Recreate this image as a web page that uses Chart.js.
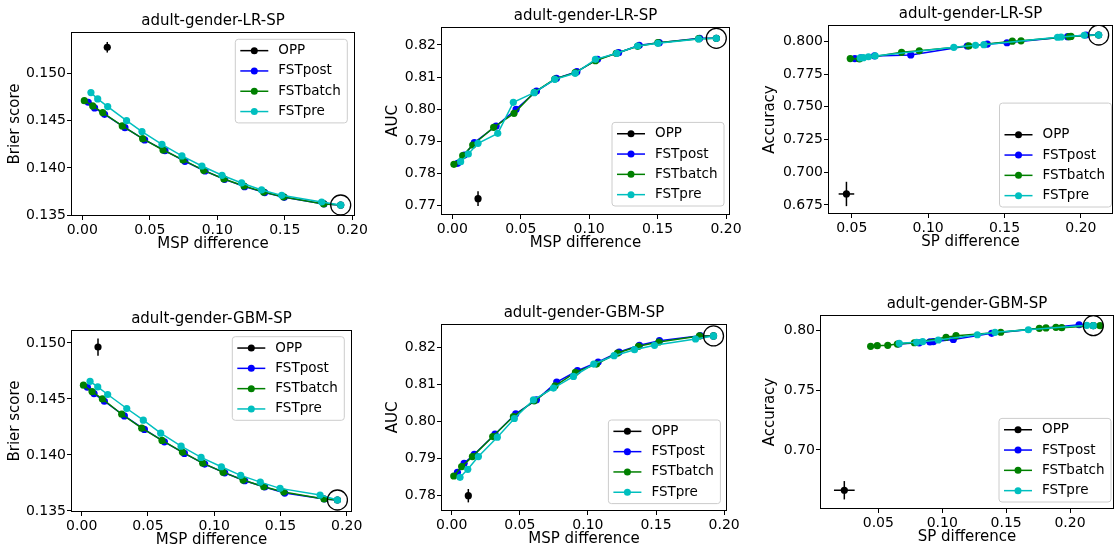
<!DOCTYPE html>
<html>
<head>
<meta charset="utf-8">
<title>adult-gender trade-off curves</title>
<script src="https://cdn.jsdelivr.net/npm/chart.js@4.4.0/dist/chart.umd.min.js"></script>
<style>
  html, body { margin: 0; padding: 0; background: #fff; }
  #fig { position: relative; width: 1115px; height: 552px; overflow: hidden; background: #fff; }
  #fig canvas { position: absolute; }
</style>
</head>
<body>
<div id="fig"></div>
<script>
// ---- data: [x, y] points ----

// adult-gender-LR-SP, Brier score vs MSP difference
const lrBrierPost = [[0.0044,0.14694],[0.0091,0.14634],[0.0165,0.14567],[0.0316,0.14426],[0.0462,0.14296],[0.0612,0.14183],[0.0760,0.14070],[0.0909,0.13968],[0.1054,0.13880],[0.1202,0.13803],[0.1351,0.13740],[0.1496,0.13690],[0.1790,0.13620],[0.1914,0.13609]];
const lrBrierBatch = [[0.0015,0.14711],[0.0077,0.14655],[0.0151,0.14585],[0.0296,0.14444],[0.0447,0.14310],[0.0598,0.14190],[0.0746,0.14085],[0.0899,0.13975],[0.1049,0.13884],[0.1198,0.13810],[0.1343,0.13746],[0.1491,0.13694],[0.1788,0.13620],[0.1914,0.13609]];
const lrBrierPre = [[0.0064,0.14796],[0.0114,0.14729],[0.0188,0.14648],[0.0328,0.14500],[0.0442,0.14384],[0.0590,0.14250],[0.0738,0.14127],[0.0886,0.14021],[0.1035,0.13923],[0.1180,0.13842],[0.1328,0.13768],[0.1477,0.13711],[0.1773,0.13641],[0.1914,0.13609]];
const lrBrierOpp = [0.0185, 0.15275];
const lrBrierOppErr = [0.0008, 0.00056];
const lrBrierBest = [0.1914, 0.13609];

// adult-gender-LR-SP, AUC vs MSP difference
const lrAucPost = [[0.0039,0.78317],[0.0088,0.78577],[0.0161,0.78961],[0.0320,0.79479],[0.0466,0.79998],[0.0615,0.80568],[0.0761,0.80963],[0.0910,0.81170],[0.1061,0.81554],[0.1215,0.81761],[0.1366,0.81990],[0.1512,0.82073],[0.1807,0.82207],[0.1929,0.82207]];
const lrAucBatch = [[0.0012,0.78286],[0.0076,0.78556],[0.0149,0.78888],[0.0302,0.79438],[0.0451,0.79873],[0.0600,0.80527],[0.0749,0.80942],[0.0898,0.81139],[0.1046,0.81512],[0.1198,0.81741],[0.1354,0.81960],[0.1502,0.82073],[0.1800,0.82197],[0.1929,0.82207]];
const lrAucPre = [[0.0061,0.78369],[0.0117,0.78608],[0.0188,0.78940],[0.0332,0.79251],[0.0446,0.80216],[0.0598,0.80517],[0.0749,0.80932],[0.0898,0.81118],[0.1046,0.81554],[0.1202,0.81741],[0.1354,0.81969],[0.1502,0.82052],[0.1800,0.82187],[0.1929,0.82207]];
const lrAucOpp = [0.0188, 0.77218];
const lrAucOppErr = [0.0008, 0.0023];
const lrAucBest = [0.1929, 0.82207];

// adult-gender-LR-SP, Accuracy vs SP difference
const lrAccPost = [[0.0520,0.7868],[0.0560,0.7874],[0.0649,0.7888],[0.0886,0.7896],[0.1256,0.7964],[0.1387,0.7979],[0.1516,0.7989],[0.1913,0.8035],[0.2033,0.8048],[0.2116,0.8048]];
const lrAccBatch = [[0.0490,0.7868],[0.0550,0.7865],[0.0826,0.7916],[0.0942,0.7928],[0.1266,0.7965],[0.1551,0.8001],[0.1608,0.8004],[0.1923,0.8035],[0.1935,0.8037],[0.2116,0.8048]];
const lrAccPre = [[0.0555,0.7873],[0.0576,0.7875],[0.0609,0.7882],[0.0653,0.7888],[0.1168,0.7954],[0.1310,0.7969],[0.1365,0.7974],[0.1847,0.8031],[0.1870,0.8033],[0.2022,0.8046],[0.2116,0.8048]];
const lrAccOpp = [0.0465, 0.6834];
const lrAccOppErr = [0.0051, 0.0093];
const lrAccBest = [0.2116, 0.8048];

// adult-gender-GBM-SP, Brier score vs MSP difference
const gbmBrierPost = [[0.0043,0.14605],[0.0093,0.14548],[0.0171,0.14480],[0.0322,0.14349],[0.0473,0.14228],[0.0624,0.14118],[0.0775,0.14014],[0.0928,0.13919],[0.1079,0.13841],[0.1230,0.13770],[0.1381,0.13714],[0.1532,0.13660],[0.1831,0.13607],[0.1930,0.13598]];
const gbmBrierBatch = [[0.0013,0.14623],[0.0078,0.14566],[0.0156,0.14501],[0.0302,0.14364],[0.0453,0.14239],[0.0606,0.14130],[0.0760,0.14026],[0.0913,0.13927],[0.1067,0.13847],[0.1218,0.13776],[0.1374,0.13717],[0.1525,0.13669],[0.1829,0.13607],[0.1930,0.13598]];
const gbmBrierPre = [[0.0063,0.14658],[0.0121,0.14608],[0.0196,0.14540],[0.0340,0.14415],[0.0465,0.14311],[0.0596,0.14195],[0.0750,0.14079],[0.0901,0.13978],[0.1054,0.13895],[0.1200,0.13818],[0.1348,0.13758],[0.1497,0.13702],[0.1799,0.13642],[0.1930,0.13598]];
const gbmBrierOpp = [0.0123, 0.14964];
const gbmBrierOppErr = [0.0006, 0.00077];
const gbmBrierBest = [0.1930, 0.13598];

// adult-gender-GBM-SP, AUC vs MSP difference
const gbmAucPost = [[0.0042,0.78629],[0.0091,0.78872],[0.0166,0.79115],[0.0318,0.79654],[0.0470,0.80202],[0.0622,0.80580],[0.0771,0.81056],[0.0923,0.81362],[0.1075,0.81596],[0.1229,0.81865],[0.1378,0.82045],[0.1525,0.82171],[0.1824,0.82306],[0.1922,0.82297]];
const gbmAucBatch = [[0.0015,0.78530],[0.0073,0.78782],[0.0152,0.79052],[0.0301,0.79590],[0.0453,0.80130],[0.0605,0.80553],[0.0759,0.80957],[0.0908,0.81317],[0.1063,0.81542],[0.1217,0.81838],[0.1371,0.82018],[0.1521,0.82135],[0.1819,0.82297],[0.1922,0.82297]];
const gbmAucPre = [[0.0061,0.78494],[0.0118,0.78710],[0.0196,0.79052],[0.0335,0.79573],[0.0460,0.80076],[0.0600,0.80580],[0.0747,0.80894],[0.0894,0.81209],[0.1043,0.81542],[0.1192,0.81766],[0.1342,0.81928],[0.1489,0.82045],[0.1790,0.82216],[0.1922,0.82297]];
const gbmAucOpp = [0.0122, 0.7800];
const gbmAucOppErr = [0.0006, 0.0018];
const gbmAucBest = [0.1922, 0.82297];

// adult-gender-GBM-SP, Accuracy vs SP difference
const gbmAccPost = [[0.0660,0.7889],[0.0820,0.7898],[0.0904,0.7906],[0.0930,0.7908],[0.1087,0.7926],[0.1387,0.7978],[0.2071,0.8050],[0.2182,0.8042]];
const gbmAccBatch = [[0.0440,0.7869],[0.0492,0.7874],[0.0574,0.7877],[0.0649,0.7888],[0.0782,0.7899],[0.1030,0.7945],[0.1108,0.7958],[0.1458,0.7987],[0.1760,0.8020],[0.1812,0.8023],[0.1890,0.8028],[0.1935,0.8025],[0.2182,0.8042],[0.2235,0.8042]];
const gbmAccPre = [[0.0664,0.7894],[0.0800,0.7903],[0.0847,0.7908],[0.0969,0.7922],[0.1275,0.7966],[0.1413,0.7986],[0.1674,0.8008],[0.2131,0.8045],[0.2182,0.8042]];
const gbmAccOpp = [0.0234, 0.6662];
const gbmAccOppErr = [0.0081, 0.0077];
const gbmAccBest = [0.2182, 0.8042];

const seriesNames = ['OPP', 'FSTpost', 'FSTbatch', 'FSTpre'];
const seriesColors = ['#000000', '#0000ff', '#008000', '#00bfbf'];

const FONT = "'DejaVu Sans', 'Liberation Sans', sans-serif";

// ---- panel setup ----
const panels = [
    { title: 'adult-gender-LR-SP', xLabel: 'MSP difference', yLabel: 'Brier score',
      post: lrBrierPost, batch: lrBrierBatch, pre: lrBrierPre, opp: lrBrierOpp, oppErr: lrBrierOppErr, best: lrBrierBest,
      xMin: -0.00837, xMax: 0.2020, xStep: 0.05, xDec: 2,
      yMin: 0.13493, yMax: 0.15436, yStep: 0.005, yDec: 3,
      box: { l: 71, t: 32, r: 355, b: 216 }, yLabelX: 15.5,
      legend: { corner: 'top', dx: 7.7, dy: 7.3, extra: 0 } },
    { title: 'adult-gender-LR-SP', xLabel: 'MSP difference', yLabel: 'AUC',
      post: lrAucPost, batch: lrAucBatch, pre: lrAucPre, opp: lrAucOpp, oppErr: lrAucOppErr, best: lrAucBest,
      xMin: -0.00826, xMax: 0.2029, xStep: 0.05, xDec: 2,
      yMin: 0.7671, yMax: 0.8256, yStep: 0.01, yDec: 2,
      box: { l: 441, t: 27, r: 730, b: 215 }, yLabelX: 393,
      legend: { corner: 'bottom', dx: 6, dy: 9, extra: 0 } },
    { title: 'adult-gender-LR-SP', xLabel: 'SP difference', yLabel: 'Accuracy',
      post: lrAccPost, batch: lrAccBatch, pre: lrAccPre, opp: lrAccOpp, oppErr: lrAccOppErr, best: lrAccBest,
      xMin: 0.03443, xMax: 0.2210, xStep: 0.05, xDec: 2,
      yMin: 0.6681, yMax: 0.81245, yStep: 0.025, yDec: 3,
      box: { l: 828, t: 25, r: 1113, b: 214 }, yLabelX: 770.5,
      legend: { corner: 'bottom', dx: 1.5, dy: 7, extra: 1 } },
    { title: 'adult-gender-GBM-SP', xLabel: 'MSP difference', yLabel: 'Brier score',
      post: gbmBrierPost, batch: gbmBrierBatch, pre: gbmBrierPre, opp: gbmBrierOpp, oppErr: gbmBrierOppErr, best: gbmBrierBest,
      xMin: -0.00808, xMax: 0.2040, xStep: 0.05, xDec: 2,
      yMin: 0.13491, yMax: 0.15116, yStep: 0.005, yDec: 3,
      box: { l: 71, t: 330, r: 352, b: 512 }, yLabelX: 15,
      legend: { corner: 'top', dx: 7.7, dy: 6.7, extra: 0 } },
    { title: 'adult-gender-GBM-SP', xLabel: 'MSP difference', yLabel: 'AUC',
      post: gbmAucPost, batch: gbmAucBatch, pre: gbmAucPre, opp: gbmAucOpp, oppErr: gbmAucOppErr, best: gbmAucBest,
      xMin: -0.00786, xMax: 0.2021, xStep: 0.05, xDec: 2,
      yMin: 0.77588, yMax: 0.82619, yStep: 0.01, yDec: 2,
      box: { l: 441, t: 324, r: 727, b: 511 }, yLabelX: 393,
      legend: { corner: 'bottom', dx: 6.6, dy: 7.4, extra: 0 } },
    { title: 'adult-gender-GBM-SP', xLabel: 'SP difference', yLabel: 'Accuracy',
      post: gbmAccPost, batch: gbmAccBatch, pre: gbmAccPre, opp: gbmAccOpp, oppErr: gbmAccOppErr, best: gbmAccBest,
      xMin: 0.00438, xMax: 0.2344, xStep: 0.05, xDec: 2,
      yMin: 0.65048, yMax: 0.81316, yStep: 0.05, yDec: 2,
      box: { l: 820, t: 315, r: 1114, b: 509 }, yLabelX: 770,
      legend: { corner: 'bottom', dx: 3, dy: 7, extra: 0 } }
];

// full frame round the plot area, like matplotlib spines
const framePlugin = {
    id: 'frame',
    afterDatasetsDraw(chart) {
        const { ctx, chartArea: a } = chart;
        ctx.save();
        ctx.strokeStyle = '#000';
        ctx.lineWidth = 1;
        ctx.strokeRect(a.left + 0.5, a.top + 0.5, a.right - a.left - 1, a.bottom - a.top - 1);
        ctx.restore();
    }
};

// matplotlib style legend box
const legendPlugin = {
    id: 'boxLegend',
    afterDraw(chart, args, opts) {
        const { ctx, chartArea: a } = chart;
        const rowH = 20.3, pad = 1.2, w = 112;
        const rows = seriesNames.length + opts.extra;
        const h = rows * rowH + pad * 2;
        const right = a.right - opts.dx;
        const left = right - w;
        const top = opts.corner === 'top' ? a.top + opts.dy : a.bottom - opts.dy - h;

        ctx.save();
        ctx.beginPath();
        ctx.roundRect(left, top, w, h, 3);
        ctx.fillStyle = 'rgba(255,255,255,0.8)';
        ctx.fill();
        ctx.strokeStyle = '#cccccc';
        ctx.lineWidth = 1;
        ctx.stroke();

        ctx.font = '13.5px ' + FONT;
        ctx.textBaseline = 'middle';
        ctx.textAlign = 'left';
        seriesNames.forEach((name, i) => {
            const cy = top + pad + (opts.extra + i + 0.5) * rowH;
            ctx.strokeStyle = seriesColors[i];
            ctx.lineWidth = 1.5;
            ctx.beginPath();
            ctx.moveTo(left + 5, cy);
            ctx.lineTo(left + 33, cy);
            ctx.stroke();
            ctx.fillStyle = seriesColors[i];
            ctx.beginPath();
            ctx.arc(left + 19, cy, 3.5, 0, Math.PI * 2);
            ctx.fill();
            ctx.fillStyle = '#000';
            ctx.fillText(name, left + 43, cy);
        });
        ctx.restore();
    }
};

function toPoints(arr) {
    return arr.map(p => ({ x: p[0], y: p[1] }));
}

function lineSet(arr, color) {
    return {
        data: toPoints(arr),
        showLine: true,
        borderColor: color,
        backgroundColor: color,
        borderWidth: 1.5,
        pointRadius: 3.6,
        pointBorderWidth: 0,
        pointBackgroundColor: color
    };
}

function barSet(points) {
    return {
        data: toPoints(points),
        showLine: true,
        borderColor: '#000',
        borderWidth: 1.5,
        pointRadius: 0
    };
}

function makeChart(p) {
    const YW = 70, TH = 20, XH = 39, RP = 25;
    const w = (p.box.r - p.box.l) + YW + RP;
    const h = (p.box.b - p.box.t) + TH + XH;
    const canvas = document.createElement('canvas');
    canvas.width = w;
    canvas.height = h;
    canvas.style.width = w + 'px';
    canvas.style.height = h + 'px';
    canvas.style.left = (p.box.l - YW) + 'px';
    canvas.style.top = (p.box.t - TH) + 'px';
    document.getElementById('fig').appendChild(canvas);

    const [ox, oy] = p.opp;
    const [ex, ey] = p.oppErr;

    const datasets = [
        // best (unconstrained) point, circled
        { data: toPoints([p.best]), pointRadius: 10, pointBorderWidth: 1.3,
          pointBorderColor: '#000', pointBackgroundColor: 'rgba(0,0,0,0)', showLine: false },
        lineSet(p.pre, seriesColors[3]),
        lineSet(p.batch, seriesColors[2]),
        lineSet(p.post, seriesColors[1]),
        barSet([[ox, oy - ey], [ox, oy + ey]]),
        barSet([[ox - ex, oy], [ox + ex, oy]]),
        { data: toPoints([p.opp]), pointRadius: 3.6, pointBorderWidth: 0,
          pointBackgroundColor: '#000', showLine: false }
    ];

    const lh = 15 * 1.2;
    const yTitlePad = p.yLabelX - (p.box.l - YW) - lh / 2;

    new Chart(canvas, {
        type: 'scatter',
        data: { datasets },
        options: {
            responsive: false,
            animation: false,
            events: [],
            layout: { padding: { left: 0, top: 0, right: RP, bottom: 0 } },
            plugins: {
                legend: { display: false },
                tooltip: { enabled: false },
                title: {
                    display: true, text: p.title, color: '#000', fullSize: false,
                    font: { family: FONT, size: 15, weight: 'normal' },
                    padding: { top: 0, bottom: 2 }
                },
                boxLegend: p.legend
            },
            scales: {
                x: {
                    type: 'linear', min: p.xMin, max: p.xMax,
                    afterFit: s => { s.height = XH; },
                    border: { display: false },
                    grid: { display: true, drawOnChartArea: false, drawTicks: true, tickLength: 4, color: '#000' },
                    ticks: {
                        stepSize: p.xStep, includeBounds: false, autoSkip: false, maxRotation: 0,
                        padding: 2, color: '#000', font: { family: FONT, size: 14 },
                        callback: v => Number(v).toFixed(p.xDec)
                    },
                    title: { display: true, text: p.xLabel, color: '#000',
                             font: { family: FONT, size: 15 }, padding: { top: 0, bottom: 2 } }
                },
                y: {
                    type: 'linear', min: p.yMin, max: p.yMax,
                    afterFit: s => { s.width = YW; },
                    border: { display: false },
                    grid: { display: true, drawOnChartArea: false, drawTicks: true, tickLength: 4, color: '#000' },
                    ticks: {
                        stepSize: p.yStep, includeBounds: false, autoSkip: false,
                        padding: 1, color: '#000', font: { family: FONT, size: 14 },
                        callback: v => Number(v).toFixed(p.yDec)
                    },
                    title: { display: true, text: p.yLabel, color: '#000',
                             font: { family: FONT, size: 15 }, padding: { top: yTitlePad, bottom: 0 } }
                }
            }
        },
        plugins: [framePlugin, legendPlugin]
    });
}

panels.forEach(makeChart);
</script>
</body>
</html>
